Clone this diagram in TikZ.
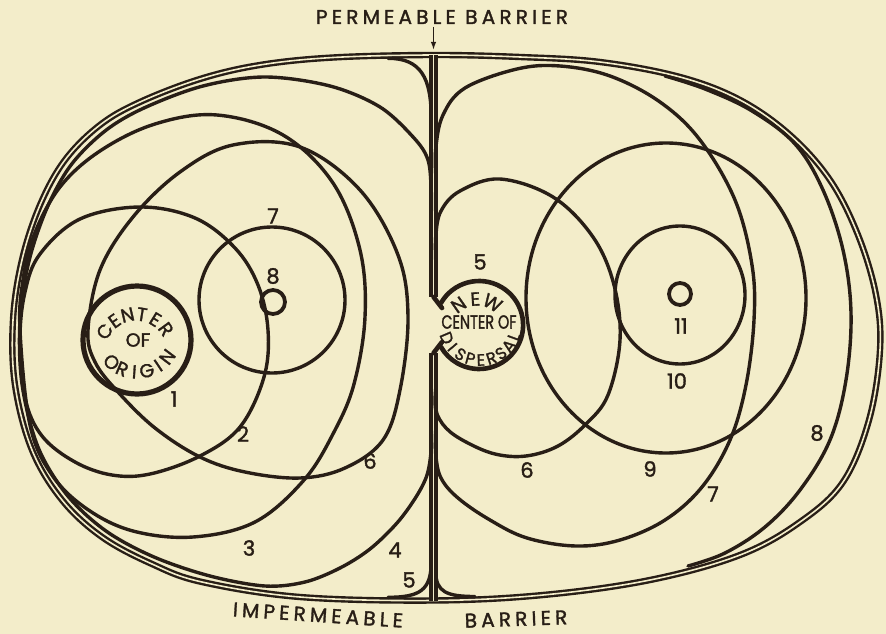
\documentclass[tikz,border=0pt]{standalone}
\usepackage{fontspec}
\newfontfamily\lett[FakeBold=1.6]{Poppins}
\newfontfamily\lettsp[LetterSpace=21,FakeBold=1.6]{Poppins}
\usetikzlibrary{arrows.meta,calc}
\definecolor{bg}{RGB}{243,237,202}
\definecolor{ink}{RGB}{40,30,22}
\begin{document}
\begin{tikzpicture}[x=1pt,y=-1pt,
  rng/.style={draw=ink,line width=3.4pt,line cap=round,line join=round},
  bnd/.style={draw=ink,line width=2.4pt,double=bg,double distance=1.6pt,line join=round},
  barr/.style={draw=ink,line width=3.4pt,double=bg,double distance=1.4pt},
  lbl/.style={text=ink,inner sep=0pt,font=\lett\fontsize{21}{21}\selectfont},
  ttl/.style={text=ink,inner sep=0pt,font=\lettsp\fontsize{20}{20}\selectfont},
  arcl/.style={text=ink,inner sep=0pt,font=\lett\fontsize{19}{19}\selectfont},
  arcs/.style={text=ink,inner sep=0pt,font=\lett\fontsize{16.5}{16.5}\selectfont},
]
\fill[bg] (0,0) rectangle (886,634);
\useasboundingbox (0,0) rectangle (886,634);

% outer impermeable boundary (double line)
\draw[bnd] plot[smooth cycle, tension=0.6] coordinates {
 (433,55) (520,57) (600,62) (680,77) (740,100) (790,135) (830,180) (858,235)
 (876,295) (880,350) (869,420) (843,482) (800,522) (740,555) (650,580) (543,595)
 (433,600.5) (300,597) (202,582) (152,564) (102,537) (62,500) (32,450) (15,385)
 (13,320) (22,260) (40,205) (65,160) (100,125) (140,102) (200,79) (260,65) (333,57.5)};

% permeable barrier (double line), opened at the new centre
\coordinate (btop) at (433.5,55);
\coordinate (bn1) at (433.5,297);
\coordinate (bn2) at (433.5,353);
\coordinate (bbot) at (433.5,600.5);
\draw[barr] (btop) -- (bn1);
\draw[barr] (bn2) -- (bbot);

% ---------- left half ----------
% range 5 (fillets into barrier)
\draw[rng] (431.2,118) .. controls (431.2,78) and (421,58.3) .. (388,58.3);
\draw[rng] (431.2,562) .. controls (431.2,590) and (420,597.3) .. (388,597.3);
% range 4
\draw[rng] plot[smooth, tension=0.55] coordinates {(431.2,215) (431.2,190) (428,160)
 (414,138) (380,107) (330,86) (265,77) (203,86)
 (144,108) (105,131) (71,165) (47,208) (29,261) (20,320) (22,384) (38,447) (67,495)
 (106,531) (154,557) (210,576) (265,586) (305,582) (340,568) (370,549) (397,523)
 (416,497) (427,475) (431.2,450) (431.2,428)};
% range 3
\draw[rng] plot[smooth cycle, tension=0.6] coordinates {
 (20,330) (23,280) (34,235) (60,187) (100,151) (155,124) (217,115) (283,135)
 (333,183) (360,250) (365,317) (354,384) (334,432) (304,480) (255,522) (193,537)
 (133,531) (87,509) (52,475) (30,425)};
% range 2
\draw[rng] plot[smooth cycle, tension=0.6] coordinates {
 (20,340) (25,292) (40,254) (80,219) (140,207) (195,218) (235,248) (258,285)
 (268,330) (264,377) (240,427) (200,456) (150,474) (112,475) (75,462) (42,436) (25,398)};
% range 6
\draw[rng] plot[smooth cycle, tension=0.6] coordinates {
 (88,330) (100,270) (133,217) (180,172) (233,145) (300,147) (360,190) (398,255)
 (408,317) (400,390) (383,440) (345,468) (300,478) (245,472) (200,457) (155,428)
 (118,392) (95,362)};
% range 7, 8
\draw[rng] (272,300) circle [radius=73];
\draw[rng,line width=3.8pt] (273,302) circle [radius=12];
% range 1: centre of origin
\draw[rng,line width=5.2pt] (137,340) circle [radius=54];

% ---------- right half ----------
% range 8
\draw[rng] plot[smooth, tension=0.6] coordinates {(665,76) (705,89) (752,111) (795,144)
 (823,190) (843,250) (851,313) (846,380) (830,440) (800,490) (765,527) (725,553) (688,566)};
\draw[rng] (435.8,572) .. controls (435.8,592) and (447,596.5) .. (475,596.5);
% range 7
\draw[rng] plot[smooth, tension=0.6] coordinates {(435.8,175) (435.8,148) (443,115) (465,88)
 (517,69) (560,66) (610,76) (660,102) (700,140) (735,200) (752,265) (754,320) (746,385)
 (730,440) (702,487) (665,520) (620,540) (576,546) (527,538) (490,520) (458,498)
 (441,478) (435.8,455) (435.8,432)};
% range 6
\draw[rng] plot[smooth, tension=0.6] coordinates {(435.8,262) (435.8,236) (441,211)
 (460,191) (500,179) (553,197) (593,237) (614,285) (620,340) (608,395) (586,424)
 (558,446) (526,456) (495,454) (466,442) (446,428) (435.8,410) (435.8,388)};
% range 9, 10, 11
\draw[rng] (666,298) ellipse [x radius=140, y radius=155];
\draw[rng] (680,295) ellipse [x radius=65, y radius=69];
\draw[rng,line width=3.8pt] (680,294) circle [radius=11];
% range 5: new centre of dispersal
\draw[rng,line width=4.6pt] (bn1) -- (442,308);
\draw[rng,line width=4.6pt] (bn2) -- (442,342);
\draw[rng,line width=4.6pt] (441,303) arc[start angle=-150, end angle=150, radius=44];

% ---------- texts ----------
\node[ttl] (perm) at (442,17) {PERMEABLE BARRIER};
\coordinate (arrs) at (433.5,27);
\coordinate (arre) at (433.5,50);
\draw[draw=ink,line width=1.5pt,-{Latex[length=8pt,width=5.5pt]}] (arrs) -- (arre);
\node[ttl,rotate=-3.8] (imp) at (318,615) {IMPERMEABLE};
\node[ttl,rotate=2] (barw) at (516,619) {BARRIER};

% left numbers
\node[lbl] (l7) at (273,216) {7};
\node[lbl] (l8) at (273,276) {8};
\node[lbl] (l1) at (174,399) {1};
\node[lbl] (l2) at (243,434) {2};
\node[lbl] (l6) at (370,461) {6};
\node[lbl] (l3) at (249,548) {3};
\node[lbl] (l4) at (395,550) {4};
\node[lbl] (l5) at (409,580) {5};
% right numbers
\node[lbl] (r5) at (480,262) {5};
\node[lbl] (r6) at (527,470) {6};
\node[lbl] (r9) at (650,469) {9};
\node[lbl] (r7) at (713,494) {7};
\node[lbl] (r8) at (817,433) {8};
\node[lbl] (r10) at (677,381) {10};
\node[lbl] (r11) at (681,326) {11};

% centre of origin lettering
\foreach \ch/\a [count=\i] in {C/148,E/125.6,N/103.2,T/80.8,E/58.4,R/36}
  \node[arcl,rotate=\a-90] (cot\i) at ($(136,351)+(-\a:37)$) {\ch};
\node[arcl] (coof) at (138,340) {OF};
\foreach \ch/\a [count=\i] in {O/228,R/247,I/266,G/285,I/304,N/323}
  \node[arcl,rotate=\a+90] (cob\i) at ($(137,334)+(-\a:38)$) {\ch};

% new centre of dispersal lettering
\foreach \ch/\a [count=\i] in {N/125,E/93,W/61}
  \node[arcl,rotate=\a-90] (cdt\i) at ($(477,331)+(-\a:32)$) {\ch};
\node[arcl,xscale=0.76] (cdc) at (479,322) {CENTER OF};
\foreach \ch/\a [count=\i] in {D/203,I/220.1,S/237.2,P/254.3,E/271.4,R/288.5,S/305.6,A/322.7,L/339.8}
  \node[arcs,rotate=\a+90] (cdb\i) at ($(480,324)+(-\a:36)$) {\ch};
\end{tikzpicture}
\end{document}
